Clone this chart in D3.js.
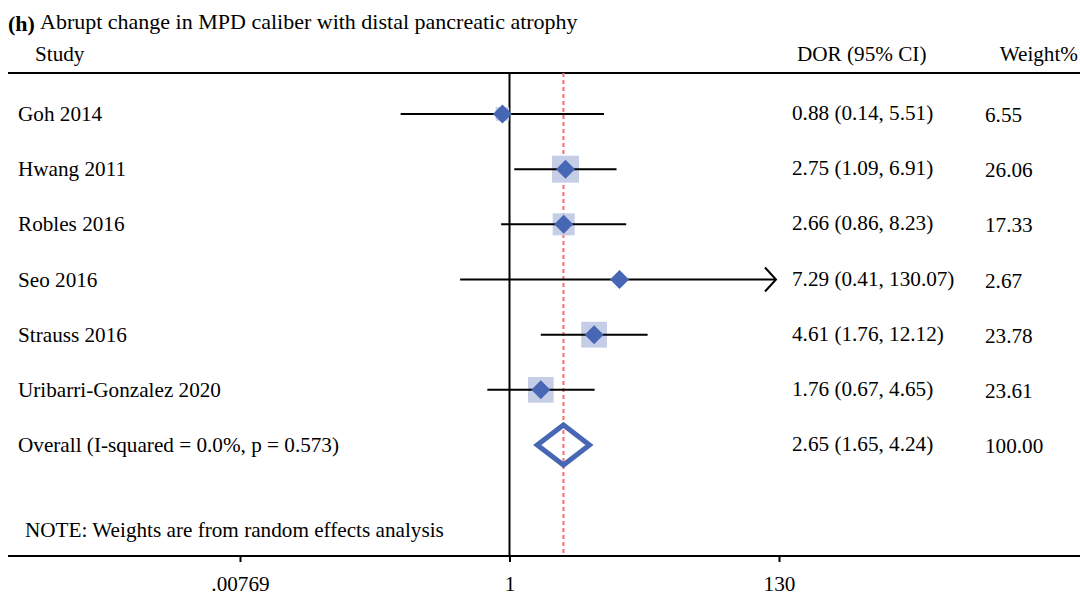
<!DOCTYPE html>
<html><head><meta charset="utf-8">
<script src="https://cdn.jsdelivr.net/npm/d3@7"></script>
<style>body{margin:0;background:#fff}svg{display:block}text{font-family:"Liberation Serif","Times New Roman",serif;fill:#000}</style>
</head><body><svg id="c" width="1080" height="596"></svg>
<script>
const studies = ["Goh 2014","Hwang 2011","Robles 2016","Seo 2016","Strauss 2016","Uribarri-Gonzalez 2020"];
const dor = [0.88, 2.75, 2.66, 7.29, 4.61, 1.76];
const lower = [0.14, 1.09, 0.86, 0.41, 1.76, 0.67];
const upper = [5.51, 6.91, 8.23, 130.07, 12.12, 4.65];
const weights = [6.55, 26.06, 17.33, 2.67, 23.78, 23.61];
const overallLabel = "Overall (I-squared = 0.0%, p = 0.573)";
const overall = {dor: 2.65, lower: 1.65, upper: 4.24, weight: 100.00};
const tickValues = [0.00769, 1, 130];
const tickLabels = [".00769", "1", "130"];

const svg = d3.select("#c");
const x = d3.scaleLog().domain([1/130, 130]).range([240, 779]);
const y = d3.scaleLinear().domain([0, 6]).range([114, 445]);
const yTop = 73, yBottom = 556;
const blue = "#4767b5", boxFill = "#c6cee7";
const fs = 21.2;

// title
svg.append("text").attr("x", 8).attr("y", 31).attr("font-size", 22).attr("font-weight", "bold").text("(h)");
svg.append("text").attr("x", 40).attr("y", 29).attr("font-size", 22).text("Abrupt change in MPD caliber with distal pancreatic atrophy");
// headers
svg.append("text").attr("x", 35).attr("y", 61).attr("font-size", fs).text("Study");
svg.append("text").attr("x", 797).attr("y", 61).attr("font-size", fs).text("DOR (95% CI)");
svg.append("text").attr("x", 1078).attr("y", 61).attr("font-size", fs).attr("text-anchor","end").text("Weight%");

// horizontal rule
svg.append("line").attr("x1", 8).attr("x2", 1080).attr("y1", yTop).attr("y2", yTop).attr("stroke", "#000").attr("stroke-width", 2);

// null line
svg.append("line").attr("x1", x(1)).attr("x2", x(1)).attr("y1", yTop).attr("y2", yBottom).attr("stroke", "#000").attr("stroke-width", 2);
// overall dashed line
svg.append("line").attr("x1", x(overall.dor)).attr("x2", x(overall.dor)).attr("y1", yTop).attr("y2", yBottom)
  .attr("stroke", "#ff6b6b").attr("stroke-width", 2).attr("stroke-dasharray", "4,3");

// axis
const axis = d3.axisBottom(x).tickValues(tickValues).tickFormat((d,i)=>tickLabels[i]).tickSize(6).tickPadding(14);
const ag = svg.append("g").attr("transform", `translate(0,${yBottom})`).call(axis);
ag.select(".domain").remove();
ag.selectAll(".tick line").attr("stroke", "#000").attr("stroke-width", 2);
ag.selectAll(".tick text").attr("font-size", fs).attr("font-family", '"Liberation Serif",serif').attr("fill", "#000");
svg.append("line").attr("x1", 8).attr("x2", 1080).attr("y1", yBottom).attr("y2", yBottom).attr("stroke", "#000").attr("stroke-width", 2);

const k = 27 / Math.sqrt(26.06);
const xmax = x.domain()[1], xmin = x.domain()[0];
studies.forEach((s, i) => {
  const yy = y(i);
  const side = k * Math.sqrt(weights[i]);
  svg.append("rect").attr("x", x(dor[i]) - side/2).attr("y", yy - side/2).attr("width", side).attr("height", side).attr("fill", boxFill);
  const lo = Math.max(lower[i], xmin), hi = Math.min(upper[i], xmax);
  const x2 = upper[i] > xmax ? x(hi) - 3 : x(hi);
  svg.append("line").attr("x1", x(lo)).attr("x2", x2).attr("y1", yy).attr("y2", yy).attr("stroke", "#000").attr("stroke-width", 2);
  if (upper[i] > xmax) {
    const tx = x(hi) - 3;
    svg.append("path").attr("d", `M${tx-11},${yy-12}L${tx},${yy}L${tx-11},${yy+12}`).attr("fill", "none").attr("stroke", "#000").attr("stroke-width", 2);
  }
  const cx = x(dor[i]), r = 9.5;
  svg.append("path").attr("d", `M${cx-r},${yy}L${cx},${yy-r}L${cx+r},${yy}L${cx},${yy+r}Z`).attr("fill", blue);
  svg.append("text").attr("x", 18).attr("y", yy + 7).attr("font-size", fs).text(s);
  svg.append("text").attr("x", 792).attr("y", yy + 6).attr("font-size", fs).text(`${dor[i].toFixed(2)} (${lower[i].toFixed(2)}, ${upper[i].toFixed(2)})`);
  svg.append("text").attr("x", 985).attr("y", yy + 8).attr("font-size", fs).text(weights[i].toFixed(2));
});

// overall
const oy = y(6);
svg.append("path").attr("d", `M${x(overall.lower)},${oy}L${x(overall.dor)},${oy-20}L${x(overall.upper)},${oy}L${x(overall.dor)},${oy+20}Z`)
  .attr("fill", "none").attr("stroke", blue).attr("stroke-width", 5);
svg.append("text").attr("x", 18).attr("y", oy + 7).attr("font-size", fs).text(overallLabel);
svg.append("text").attr("x", 792).attr("y", oy + 6).attr("font-size", fs).text(`${overall.dor.toFixed(2)} (${overall.lower.toFixed(2)}, ${overall.upper.toFixed(2)})`);
svg.append("text").attr("x", 985).attr("y", oy + 8).attr("font-size", fs).text(overall.weight.toFixed(2));

svg.append("text").attr("x", 25).attr("y", 537).attr("font-size", fs).text("NOTE: Weights are from random effects analysis");
</script></body></html>
